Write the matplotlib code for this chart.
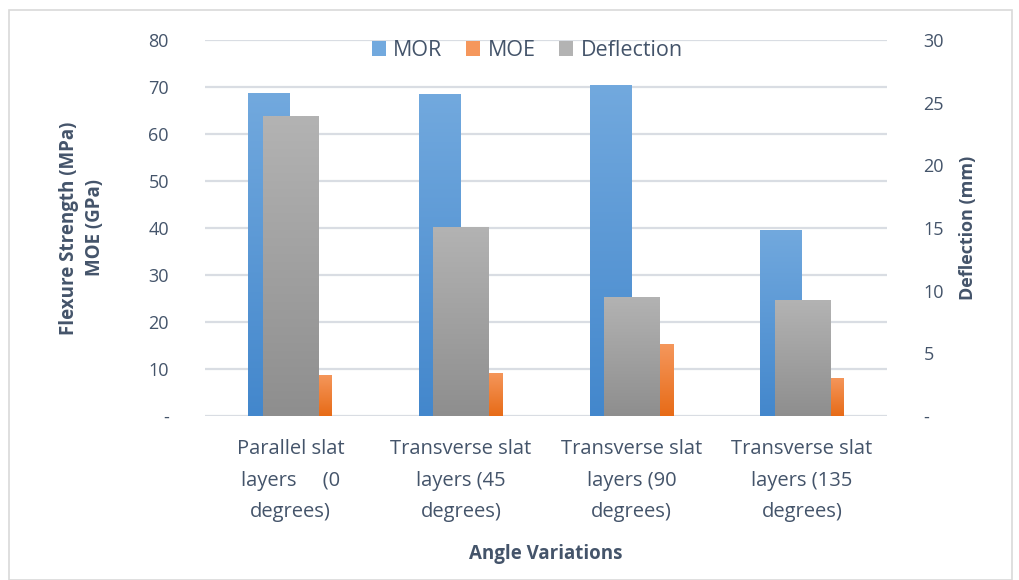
import numpy as np
import matplotlib.pyplot as plt
from matplotlib.colors import LinearSegmentedColormap

categories = ['Parallel slat\nlayers     (0\ndegrees)',
              'Transverse slat\nlayers (45\ndegrees)',
              'Transverse slat\nlayers (90\ndegrees)',
              'Transverse slat\nlayers (135\ndegrees)']
mor = [68.7, 68.5, 70.4, 39.6]
moe = [8.8, 9.2, 15.2, 8.1]
deflection = [23.9, 15.1, 9.5, 9.25]

left_ticks = [0, 10, 20, 30, 40, 50, 60, 70, 80]
left_labels = ['-', '10', '20', '30', '40', '50', '60', '70', '80']
right_ticks = [0, 5, 10, 15, 20, 25, 30]
right_labels = ['-', '5', '10', '15', '20', '25', '30']

txt = '#44546A'
plt.rcParams['font.family'] = ['Open Sans', 'DejaVu Sans']

fig = plt.figure(figsize=(10.2, 5.8), dpi=100)
ax = fig.add_axes([0.201, 0.283, 0.669, 0.648])
ax2 = ax.twinx()


def grad_bars(axis, xs, heights, width, top, bottom, label):
    # solid bars first (for legend), then a vertical gradient clipped to each bar
    bars = axis.bar(xs, heights, width=width, color=top, label=label,
                    align='edge', zorder=2)
    cmap = LinearSegmentedColormap.from_list('g', [bottom, top])
    grad = np.linspace(0, 1, 256).reshape(-1, 1)
    for b in bars:
        x0, y0 = b.get_x(), b.get_y()
        w, h = b.get_width(), b.get_height()
        im = axis.imshow(grad, cmap=cmap, origin='lower', aspect='auto',
                         extent=[x0, x0 + w, y0, y0 + h], zorder=2.1)
        im.set_clip_path(b)
    return bars


x = np.arange(len(categories))
w = 0.246
wd = 0.323
b1 = grad_bars(ax, x - w, mor, w, '#72a9de', '#4387cc', 'MOR')
b2 = grad_bars(ax, x, moe, w, '#f5975c', '#e76b17', 'MOE')
b3 = grad_bars(ax2, x - wd / 2, deflection, wd, '#b3b3b3', '#8e8e8e', 'Deflection')

ax.set_xlim(-0.5, 3.5)
ax.set_ylim(0, 80)
ax2.set_ylim(0, 30)
ax.set_yticks(left_ticks)
ax.set_yticklabels(left_labels)
ax2.set_yticks(right_ticks)
ax2.set_yticklabels(right_labels)
ax.set_xticks(x)
ax.set_xticklabels(categories, linespacing=1.75, fontsize=14.5)

ax.grid(axis='y', color='#d9dde3', linewidth=1.6, zorder=0)
ax.set_axisbelow(True)
for a in (ax, ax2):
    for s in a.spines.values():
        s.set_visible(False)
    a.tick_params(length=0, labelsize=13, colors=txt)
ax.tick_params(axis='y', pad=26)
ax2.tick_params(axis='y', pad=26)
ax.tick_params(axis='x', pad=17, labelsize=14.5)

ax.set_ylabel('Flexure Strength (MPa)\nMOE (GPa)', fontsize=13.5, fontweight='bold',
              color=txt, labelpad=31, linespacing=1.4)
ax2.set_ylabel('Deflection (mm)', fontsize=13, fontweight='bold', color=txt,
               labelpad=11)
ax.set_xlabel('Angle Variations', fontsize=13.5, fontweight='bold', color=txt,
              labelpad=16)

fig.legend(handles=[b1, b2, b3], labels=['MOR', 'MOE', 'Deflection'],
           loc='center', bbox_to_anchor=(0.517, 0.913), ncol=3, frameon=False,
           fontsize=15.5, labelcolor=txt, handlelength=0.65, handleheight=0.65,
           handletextpad=0.35, columnspacing=1.1)

fig.patches.append(plt.Rectangle((0.009, 0.0), 0.983, 0.983, transform=fig.transFigure,
                                 fill=False, edgecolor='#d9d9d9', linewidth=1.2))

fig.savefig('out.png', dpi=100)
